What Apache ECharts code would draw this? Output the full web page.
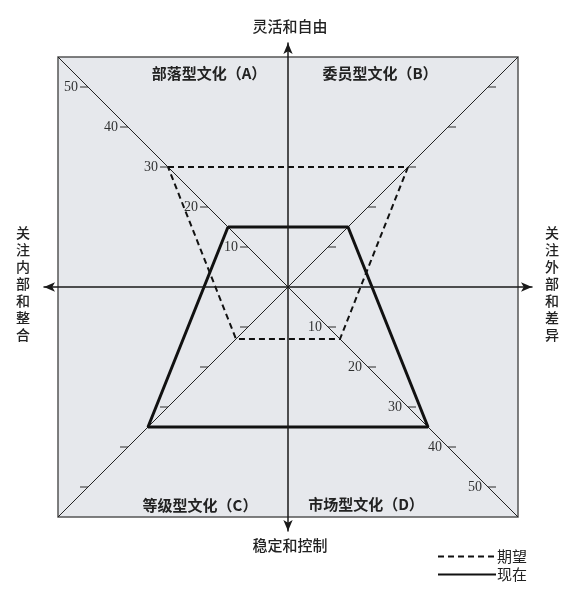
<!DOCTYPE html>
<html>
<head>
<meta charset="utf-8">
<script src="https://cdn.jsdelivr.net/npm/echarts@6/dist/echarts.min.js"></script>
<style>
    html, body { margin: 0; padding: 0; background: #fff; }
    #main { width: 580px; height: 590px; }
</style>
</head>
<body>
<div id="main"></div>
<script>
// 四个象限: A 左上, B 右上, C 左下, D 右下
var quadrantNames = ['部落型文化（A）', '委员型文化（B）', '等级型文化（C）', '市场型文化（D）'];
var desired = [30, 30, 13, 13]; // 期望
var current = [15, 15, 35, 35]; // 现在
var scaleTicks = [10, 20, 30, 40, 50];
var axisTitles = ['灵活和自由', '稳定和控制', '关注内部和整合', '关注外部和差异'];
var seriesNames = ['期望', '现在'];

var S = 57.5;   // 方框半边长
var R = 61;     // 坐标轴范围 (箭头伸出方框)
var dirs = [[-1, 1], [1, 1], [-1, -1], [1, -1]];
var order = [0, 1, 3, 2, 0]; // A -> B -> D -> C -> A

function polygon(vals) {
    return order.map(function (i) {
        return [dirs[i][0] * vals[i], dirs[i][1] * vals[i]];
    });
}

var tickData = [];
var labelData = [];
dirs.forEach(function (d, q) {
    scaleTicks.forEach(function (v) {
        tickData.push({
            value: [d[0] * v, d[1] * v],
            symbolOffset: [d[0] * 4, 0]
        });
        // 只有左上与右下对角线有刻度数字
        if (q === 0 || q === 3) {
            labelData.push({ value: [d[0] * v, d[1] * v], label: { distance: q === 0 ? 10 : 6 } });
        }
    });
});

var cjk = '"Noto Sans CJK SC", sans-serif';
var quadPos = [[209, 73], [380, 73], [200, 505], [366, 504]];

var graphics = [
    { type: 'text', left: 'center', top: 19, style: { text: axisTitles[0], font: '500 15px ' + cjk, fill: '#222' } },
    { type: 'text', left: 'center', top: 538, style: { text: axisTitles[1], font: '500 15px ' + cjk, fill: '#222' } },
    { type: 'text', left: 16, top: 224, style: { text: axisTitles[2].split('').join('\n'), font: '500 14px ' + cjk, lineHeight: 17, fill: '#222' } },
    { type: 'text', left: 545, top: 224, style: { text: axisTitles[3].split('').join('\n'), font: '500 14px ' + cjk, lineHeight: 17, fill: '#222' } }
];
quadrantNames.forEach(function (name, i) {
    graphics.push({
        type: 'text', z: 100, x: quadPos[i][0], y: quadPos[i][1],
        style: { text: name, font: 'bold 15px ' + cjk, fill: '#222', align: 'center', verticalAlign: 'middle' }
    });
});

var legendCommon = {
    left: 432,
    itemWidth: 58, itemHeight: 12,
    itemStyle: { opacity: 0 },
    textStyle: { fontFamily: cjk, fontSize: 15, color: '#222', padding: [0, 0, 0, -4] }
};

var myChart = echarts.init(document.getElementById('main'));
var option = {
    animation: false,
    backgroundColor: '#ffffff',
    grid: { left: 44, top: 43, width: 488, height: 488 },
    xAxis: {
        type: 'value', min: -R, max: R, z: 10,
        axisLine: { show: true, onZero: true, symbol: ['arrow', 'arrow'], symbolSize: [7, 11],
            lineStyle: { color: '#1a1a1a', width: 1.5 } },
        axisTick: { show: false }, axisLabel: { show: false }, splitLine: { show: false }
    },
    yAxis: {
        type: 'value', min: -R, max: R, z: 10,
        axisLine: { show: true, onZero: true, symbol: ['arrow', 'arrow'], symbolSize: [7, 11],
            lineStyle: { color: '#1a1a1a', width: 1.5 } },
        axisTick: { show: false }, axisLabel: { show: false }, splitLine: { show: false }
    },
    legend: [
        Object.assign({ data: [seriesNames[0]], top: 544 }, legendCommon),
        Object.assign({ data: [seriesNames[1]], top: 562 }, legendCommon)
    ],
    graphic: graphics,
    series: [
        {
            // 灰色方框
            type: 'custom',
            z: 0,
            silent: true,
            data: [[-S, S, S, -S]],
            renderItem: function (params, api) {
                var p1 = api.coord([api.value(0), api.value(1)]);
                var p2 = api.coord([api.value(2), api.value(3)]);
                return {
                    type: 'rect',
                    shape: { x: p1[0], y: p1[1], width: p2[0] - p1[0], height: p2[1] - p1[1] },
                    style: { fill: '#e6e8ec', stroke: '#555', lineWidth: 1.5 }
                };
            }
        },
        {
            type: 'line', symbol: 'none', silent: true, z: 3,
            data: [[-S, S], [S, -S]],
            lineStyle: { color: '#222', width: 1 }
        },
        {
            type: 'line', symbol: 'none', silent: true, z: 3,
            data: [[-S, -S], [S, S]],
            lineStyle: { color: '#222', width: 1 }
        },
        {
            type: 'scatter', silent: true, z: 4,
            symbol: 'rect', symbolSize: [8, 1.2],
            itemStyle: { color: '#222' },
            data: tickData
        },
        {
            type: 'scatter', silent: true, z: 4,
            symbolSize: 0.1,
            itemStyle: { color: '#222' },
            label: {
                show: true, position: 'left',
                formatter: function (p) { return Math.abs(p.value[0]); },
                fontFamily: '"Liberation Serif", serif', fontSize: 14, color: '#000'
            },
            data: labelData
        },
        {
            name: seriesNames[0],
            type: 'line', symbol: 'none', z: 5,
            data: polygon(desired),
            lineStyle: { color: '#111', width: 2, type: [6, 4] },
            itemStyle: { color: '#111' }
        },
        {
            name: seriesNames[1],
            type: 'line', symbol: 'none', z: 6,
            data: polygon(current),
            lineStyle: { color: '#111', width: 3 },
            itemStyle: { color: '#111' }
        }
    ]
};
myChart.setOption(option);
window.addEventListener("resize", function () {
    myChart.resize();
});
</script>
</body>
</html>
